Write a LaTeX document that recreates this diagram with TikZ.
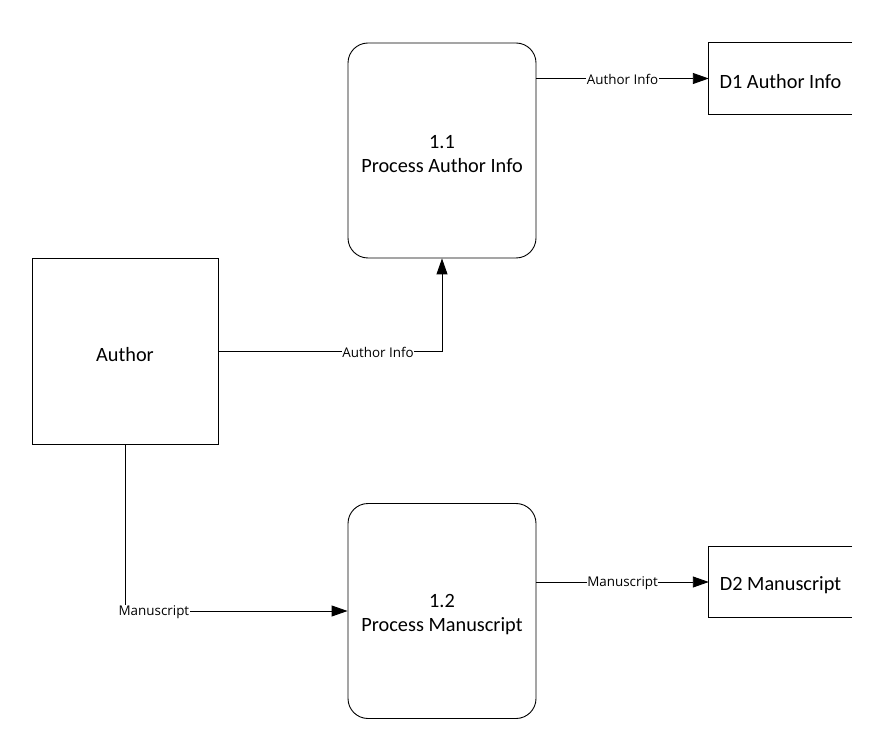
\documentclass[tikz,border=0pt]{standalone}
\usepackage{fontspec}
\setmainfont{Carlito}
\newfontfamily\lblfont{Open Sans}
\usetikzlibrary{arrows.meta}
\begin{document}
\begin{tikzpicture}[x=1pt,y=-1pt,
  every node/.style={inner sep=0pt},
  proc/.style={draw, line width=0.9pt, rounded corners=20pt, minimum width=188pt, minimum height=215pt},
  ent/.style={draw, line width=0.9pt, minimum width=186pt, minimum height=186pt},
  store/.style={minimum width=143pt, minimum height=71pt},
  txt/.style={align=center, font=\fontsize{20.3}{24}\selectfont},
  flow/.style={line width=0.9pt, -{Triangle[length=16pt,width=11pt]}},
  lbl/.style={fill=white, inner sep=0.5pt, font=\lblfont\fontsize{13.4}{15}\selectfont}]
\useasboundingbox (0,0) rectangle (892,751);
\node[proc] (p11) at (442,150.5) {};
\node[proc] (p12) at (442,611) {};
\node[ent] (author) at (125,351) {};
\node[store] (d1) at (780.5,78.5) {};
\node[store] (d2) at (780.5,582) {};
\node[txt] (t11) at ([yshift=-4pt]p11.center) {1.1\\Process Author Info};
\node[txt] (t12) at ([yshift=-4pt]p12.center) {1.2\\Process Manuscript};
\node[txt] (tauthor) at ([yshift=-4pt]author.center) {Author};
\node[txt] (td1) at ([yshift=-3pt]d1.center) {D1 Author Info};
\node[txt] (td2) at ([yshift=-3pt]d2.center) {D2 Manuscript};
\draw[line width=0.9pt] (d1.north east) -- (d1.north west) -- (d1.south west) -- (d1.south east);
\draw[line width=0.9pt] (d2.north east) -- (d2.north west) -- (d2.south west) -- (d2.south east);
\draw[flow] (author.east) -| (p11.south) node[lbl, pos=0.357, yshift=-1pt] {Author Info};
\draw[flow] (p11.east |- d1.west) -- (d1.west) node[lbl, midway, yshift=-1pt] {Author Info};
\draw[flow] (author.south) |- (p12.west) node[lbl, pos=0.565, yshift=-1pt] {Manuscript};
\draw[flow] (p12.east |- d2.west) -- (d2.west) node[lbl, midway, yshift=-1pt] {Manuscript};
\end{tikzpicture}
\end{document}
